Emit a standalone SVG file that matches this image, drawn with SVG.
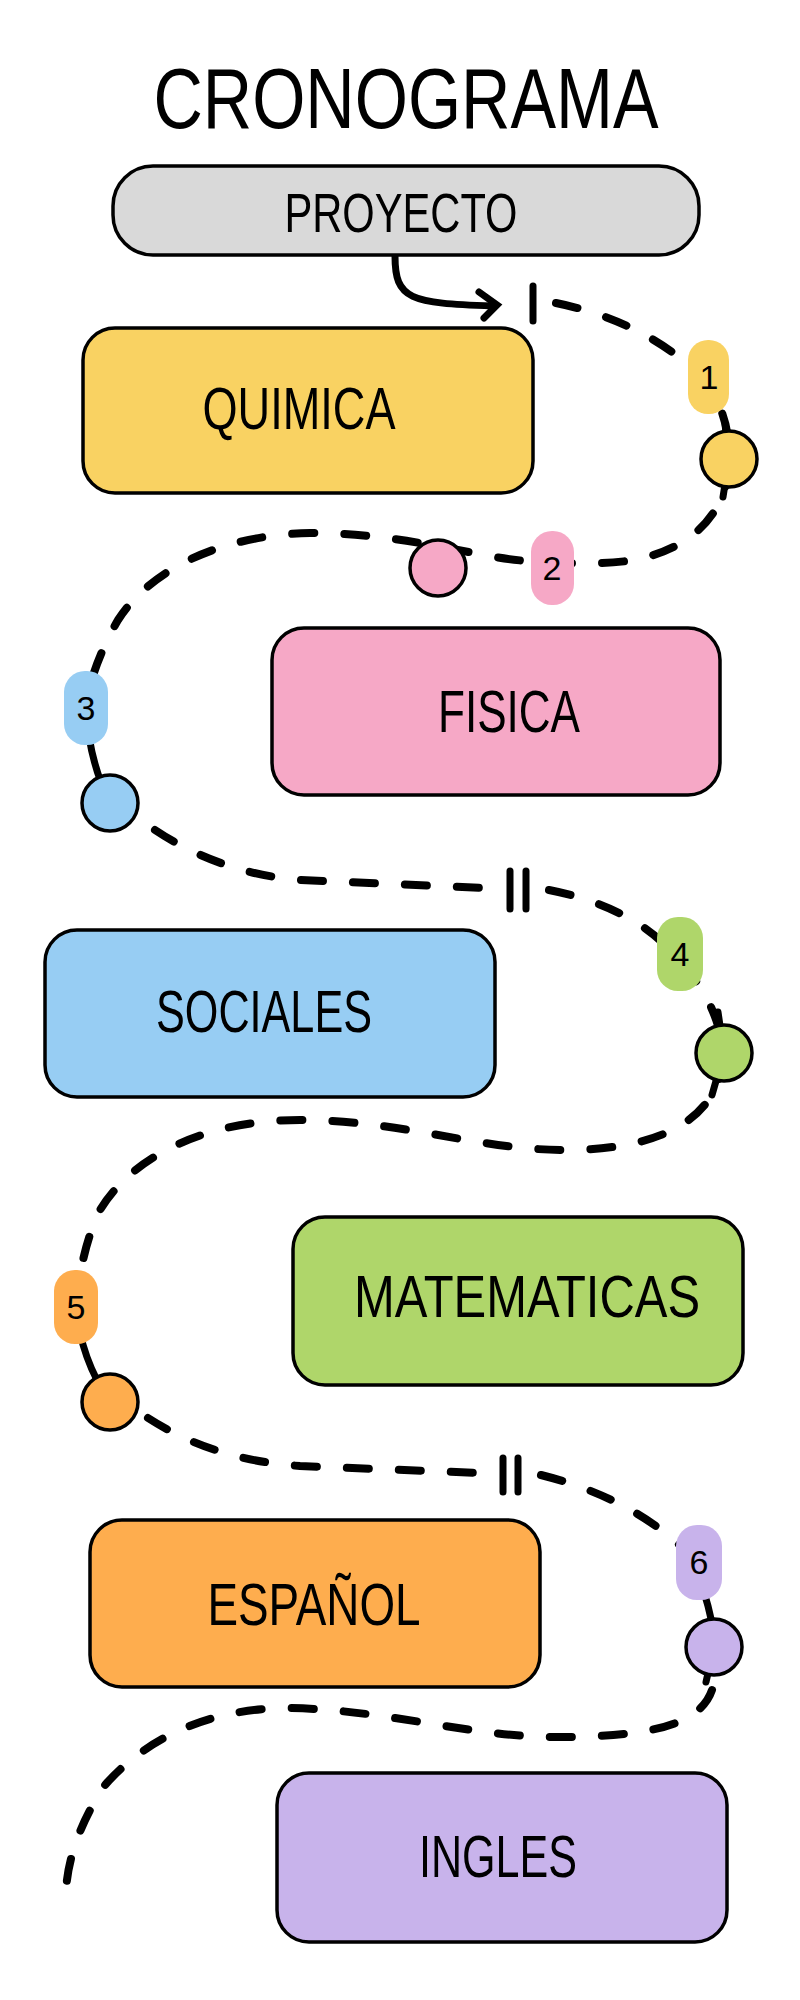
<svg xmlns="http://www.w3.org/2000/svg" width="800" height="2000" viewBox="0 0 800 2000">
<style>
.box{stroke:#000;stroke-width:3.5}
.t{font-family:"Liberation Sans Narrow","Liberation Sans",Arial,sans-serif;fill:#000;text-anchor:middle}
.lbl{font-size:60px}
.num{font-size:34px}
.dash{fill:none;stroke:#000;stroke-width:8;stroke-dasharray:22 30;stroke-linecap:round}
.solid{fill:none;stroke:#000;stroke-width:7;stroke-linecap:round}
.dot{stroke:#000;stroke-width:3.5}
.y{fill:#F9D262}.p{fill:#F6A8C6}.b{fill:#97CDF3}.g{fill:#AFD66A}.o{fill:#FEAD4E}.v{fill:#C8B3EB}
</style>
<rect width="800" height="2000" fill="#fff"/>
<text class="t" x="406" y="128" font-size="86" textLength="505" lengthAdjust="spacingAndGlyphs">CRONOGRAMA</text>

<g id="connectors">
<path class="solid" d="M395,256 C395,300 410,303 493,306" stroke-width="5"/>
<path class="solid" d="M479,292 L497,305 L484,318" stroke-width="5"/>
<path class="solid" d="M533,286 L533,321"/>
<path class="solid" d="M510,871 L510,909 M526,871 L526,909"/>
<path class="solid" d="M503,1458 L503,1492 M518,1458 L518,1492"/>
<path class="dash" d="M556,303 C615,315 665,340 705,380 C722,405 730,430 729,459 C729,520 680,562 600,563 C560,564 520,562 490,556 C430,545 380,533 310,533 C220,535 150,570 118,620 C95,660 88,690 86,708"/>
<path class="solid" d="M86,708 C88,745 96,775 110,803"/>
<path class="dash" d="M155,830 C200,860 250,876 300,880 L485,888"/>
<path class="dash" d="M549,890 C600,900 640,920 665,945 C700,980 718,1010 724,1053 C720,1120 660,1150 564,1150 C480,1150 400,1120 300,1120 C200,1120 130,1160 100,1210 C85,1240 78,1280 76,1307"/>
<path class="solid" d="M76,1307 C80,1350 95,1380 110,1402"/>
<path class="dash" d="M148,1418 C190,1445 240,1462 300,1466 L480,1473"/>
<path class="dash" d="M541,1475 C600,1490 650,1515 690,1555"/>
<path class="solid" d="M690,1555 C705,1590 714,1620 714,1647"/>
<path class="dash" d="M712,1690 C700,1725 650,1737 556,1737 C470,1737 390,1710 290,1708 C200,1708 140,1745 105,1785 C75,1830 66,1870 66,1895"/>
<path class="solid" d="M725,424 L729,459 L723,497"/>
<path class="solid" d="M718,1012 L724,1053 L712,1095"/>
<path class="solid" d="M714,1647 L706,1682"/>
</g>

<g id="proyecto">
<rect class="box" x="113" y="166" width="586" height="89" rx="40" fill="#D9D9D9"/>
<text class="t" x="401" y="232" font-size="56" textLength="233" lengthAdjust="spacingAndGlyphs">PROYECTO</text>
</g>
<g id="quimica">
<rect class="box y" x="83" y="328" width="450" height="165" rx="32"/>
<text class="t lbl" x="299" y="429" textLength="193" lengthAdjust="spacingAndGlyphs">QUIMICA</text>
</g>
<g id="fisica">
<rect class="box p" x="272" y="628" width="448" height="167" rx="32"/>
<text class="t lbl" x="509" y="732" textLength="142" lengthAdjust="spacingAndGlyphs">FISICA</text>
</g>
<g id="sociales">
<rect class="box b" x="45" y="930" width="450" height="167" rx="32"/>
<text class="t lbl" x="264" y="1032" textLength="216" lengthAdjust="spacingAndGlyphs">SOCIALES</text>
</g>
<g id="matematicas">
<rect class="box g" x="293" y="1217" width="450" height="168" rx="32"/>
<text class="t lbl" x="527" y="1317" textLength="346" lengthAdjust="spacingAndGlyphs">MATEMATICAS</text>
</g>
<g id="espanol">
<rect class="box o" x="90" y="1520" width="450" height="167" rx="32"/>
<text class="t lbl" x="314" y="1625" textLength="213" lengthAdjust="spacingAndGlyphs">ESPAÑOL</text>
</g>
<g id="ingles">
<rect class="box v" x="277" y="1773" width="450" height="169" rx="32"/>
<text class="t lbl" x="498" y="1877" textLength="158" lengthAdjust="spacingAndGlyphs">INGLES</text>
</g>

<g id="step1">
<rect class="y" x="688" y="340" width="41" height="74" rx="20"/>
<text class="t num" x="709" y="389">1</text>
<circle class="dot y" cx="729" cy="459" r="28"/>
</g>
<g id="step2">
<rect class="p" x="531" y="531" width="43" height="74" rx="21"/>
<text class="t num" x="552" y="580">2</text>
<circle class="dot p" cx="438" cy="568" r="28"/>
</g>
<g id="step3">
<rect class="b" x="64" y="671" width="44" height="74" rx="21"/>
<text class="t num" x="86" y="720">3</text>
<circle class="dot b" cx="110" cy="803" r="28"/>
</g>
<g id="step4">
<rect class="g" x="657" y="917" width="46" height="74" rx="21"/>
<text class="t num" x="680" y="966">4</text>
<circle class="dot g" cx="724" cy="1053" r="28"/>
</g>
<g id="step5">
<rect class="o" x="54" y="1270" width="44" height="74" rx="21"/>
<text class="t num" x="76" y="1319">5</text>
<circle class="dot o" cx="110" cy="1402" r="28"/>
</g>
<g id="step6">
<rect class="v" x="676" y="1525" width="46" height="75" rx="21"/>
<text class="t num" x="699" y="1574">6</text>
<circle class="dot v" cx="714" cy="1647" r="28"/>
</g>
</svg>
